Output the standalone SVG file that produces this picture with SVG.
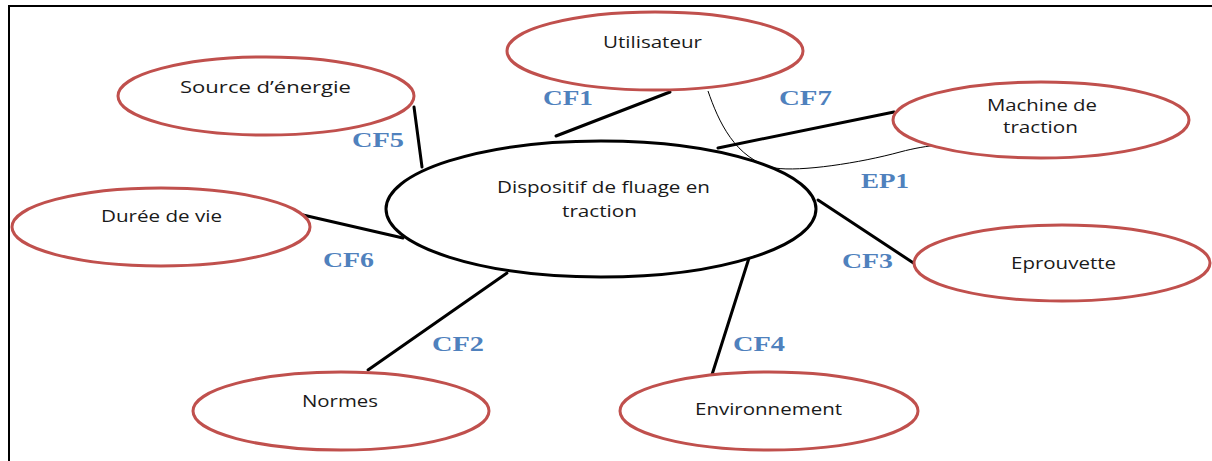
<svg xmlns="http://www.w3.org/2000/svg" width="1212" height="461" viewBox="0 0 1212 461">
<style>
.n{fill:#fff;stroke:#c0504d;stroke-width:3}
.c{fill:#fff;stroke:#000;stroke-width:3}
.t{font-family:"Open Sans","Liberation Sans",sans-serif;font-size:16px;fill:#1a1a1a}
.l{font-family:"Liberation Serif",serif;font-weight:bold;font-size:20px;fill:#4f81bd}
.k{stroke:#000;stroke-width:3;fill:none;stroke-linecap:round}
.th{stroke:#000;stroke-width:1;fill:none}
</style>
<rect width="1212" height="461" fill="#fff"/>
<path d="M9,461 V6 H1212" fill="none" stroke="#000" stroke-width="2"/>
<g id="connectors">
<line class="k" x1="556" y1="136" x2="670" y2="92"/>
<line class="k" x1="718" y1="148" x2="894" y2="112"/>
<line class="k" x1="414" y1="107" x2="422" y2="167"/>
<line class="k" x1="303" y1="215" x2="403" y2="238"/>
<line class="k" x1="368" y1="370" x2="507" y2="273"/>
<line class="k" x1="749" y1="258" x2="710" y2="381"/>
<line class="k" x1="818" y1="200" x2="915" y2="264"/>
<path class="th" d="M708,91 C718,120 735,160 775,168 C800,172 860,163 900,152 C915,148 928,146 938,145"/>
</g>
<g id="central">
<ellipse class="c" cx="601" cy="209" rx="215" ry="68"/>
<text class="t" x="497" y="193" textLength="213" lengthAdjust="spacingAndGlyphs">Dispositif de fluage en</text>
<text class="t" x="562" y="217" textLength="75" lengthAdjust="spacingAndGlyphs">traction</text>
</g>
<g id="utilisateur">
<ellipse class="n" cx="655" cy="51" rx="148" ry="39"/>
<text class="t" x="603" y="48" textLength="99" lengthAdjust="spacingAndGlyphs">Utilisateur</text>
</g>
<g id="source">
<ellipse class="n" cx="266" cy="96" rx="148" ry="39"/>
<text class="t" x="180" y="93" textLength="171" lengthAdjust="spacingAndGlyphs">Source d’énergie</text>
</g>
<g id="machine">
<ellipse class="n" cx="1041" cy="120" rx="148" ry="38"/>
<text class="t" x="987" y="111" textLength="110" lengthAdjust="spacingAndGlyphs">Machine de</text>
<text class="t" x="1003" y="133" textLength="75" lengthAdjust="spacingAndGlyphs">traction</text>
</g>
<g id="duree">
<ellipse class="n" cx="161" cy="227" rx="149" ry="39"/>
<text class="t" x="101" y="222" textLength="121" lengthAdjust="spacingAndGlyphs">Durée de vie</text>
</g>
<g id="eprouvette">
<ellipse class="n" cx="1062" cy="263" rx="148" ry="38"/>
<text class="t" x="1011" y="269" textLength="105" lengthAdjust="spacingAndGlyphs">Eprouvette</text>
</g>
<g id="normes">
<ellipse class="n" cx="341" cy="411" rx="148" ry="39"/>
<text class="t" x="302" y="407" textLength="76" lengthAdjust="spacingAndGlyphs">Normes</text>
</g>
<g id="environnement">
<ellipse class="n" cx="769" cy="411" rx="149" ry="39"/>
<text class="t" x="695" y="415" textLength="147" lengthAdjust="spacingAndGlyphs">Environnement</text>
</g>
<g id="labels">
<text class="l" x="543" y="105" textLength="50" lengthAdjust="spacingAndGlyphs">CF1</text>
<text class="l" x="779" y="105" textLength="53" lengthAdjust="spacingAndGlyphs">CF7</text>
<text class="l" x="352" y="147" textLength="52" lengthAdjust="spacingAndGlyphs">CF5</text>
<text class="l" x="861" y="188" textLength="48" lengthAdjust="spacingAndGlyphs">EP1</text>
<text class="l" x="323" y="267" textLength="51" lengthAdjust="spacingAndGlyphs">CF6</text>
<text class="l" x="842" y="268" textLength="51" lengthAdjust="spacingAndGlyphs">CF3</text>
<text class="l" x="432" y="351" textLength="52" lengthAdjust="spacingAndGlyphs">CF2</text>
<text class="l" x="733" y="351" textLength="52" lengthAdjust="spacingAndGlyphs">CF4</text>
</g>
</svg>
